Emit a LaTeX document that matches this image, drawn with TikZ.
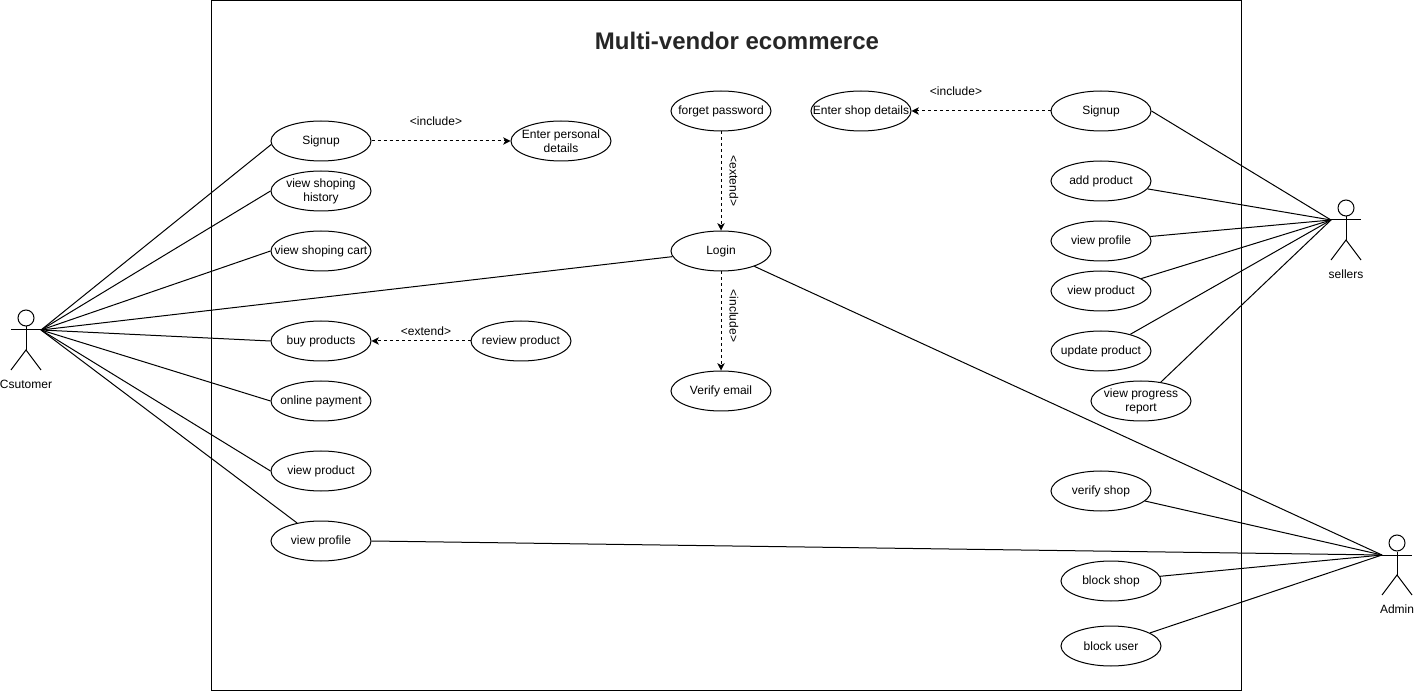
\documentclass[tikz,border=0pt]{standalone}
\usepackage{fontspec}
\setmainfont{Liberation Sans}
\usetikzlibrary{shapes.geometric,arrows.meta}
\begin{document}
\begin{tikzpicture}[x=0.75pt,y=-0.75pt,line width=0.75pt,font=\fontsize{9}{10.5}\selectfont]
        \tikzstyle{usecase}=[ellipse,draw=black,fill=white,minimum width=75pt,minimum height=30pt,inner xsep=-12pt,inner ysep=-3pt,align=center]
        \tikzstyle{actorname}=[inner sep=0pt]
        \tikzstyle{tagname}=[inner sep=0pt,fill=none]
        \tikzstyle{head}=[circle,draw=black,minimum size=12pt,inner sep=0pt]
        \tikzstyle{edge}=[draw,black]
        \tikzstyle{dep}=[draw,black,dashed,dash pattern=on 2.25pt off 2.25pt,-{Stealth[length=5.5pt,width=5.5pt,inset=1.5pt]}]
        \useasboundingbox (0,0) rectangle (1414,691);
        \fill[white] (0,0) rectangle (1414,691);
        \node [draw=black,minimum width=772.5pt,minimum height=517.5pt,inner sep=0pt] (system) at (726,345.5) {};
        \node [font=\fontsize{18}{21}\selectfont\bfseries,text=black!85] (title) at (737,41) {Multi-vendor ecommerce};
       \begin{scope}
         % left column
         \node [usecase] (signup) at (321,141) {Signup};
         \node [usecase] (details) at (561,141) {Enter personal\\details};
         \node [usecase] (history) at (321,191) {view shoping\\history};
         \node [usecase] (cart) at (321,251) {view shoping cart};
         \node [usecase] (buy) at (321,341) {buy products};
         \node [usecase] (review) at (521,341) {review product};
         \node [usecase] (payment) at (321,401) {online payment};
         \node [usecase] (product) at (321,471) {view product};
         \node [usecase] (profile) at (321,541) {view profile};
         % middle column
         \node [usecase] (forget) at (721,111) {forget password};
         \node [usecase] (login) at (721,251) {Login};
         \node [usecase] (verify) at (721,391) {Verify email};
         % right column
         \node [usecase] (shopdetails) at (861,111) {Enter shop details};
         \node [usecase] (ssignup) at (1101,111) {Signup};
         \node [usecase] (sadd) at (1101,181) {add product};
         \node [usecase] (sprofile) at (1101,241) {view profile};
         \node [usecase] (sproduct) at (1101,291) {view product};
         \node [usecase] (supdate) at (1101,351) {update product};
         \node [usecase] (sreport) at (1141,401) {view progress\\report};
         \node [usecase] (averify) at (1101,491) {verify shop};
         \node [usecase] (ablock) at (1111,581) {block shop};
         \node [usecase] (auser) at (1111,646) {block user};
       \end{scope}
       \begin{scope}
         % actors
         \node [head] (chead) at (26,318) {};
         \coordinate (chandl) at (11,330);
         \coordinate (chand) at (41,330);
         \coordinate (chip) at (26,350);
         \coordinate (cfootl) at (11,370);
         \coordinate (cfootr) at (41,370);
         \path[edge] (chead) -- (chip);
         \path[edge] (chandl) -- (chand);
         \path[edge] (cfootl) -- (chip) -- (cfootr);
         \node [actorname] (csutomer) at (26,384) {Csutomer};
         \node [head] (shead) at (1346,208) {};
         \coordinate (shand) at (1331,220);
         \coordinate (shandr) at (1361,220);
         \coordinate (ship) at (1346,240);
         \coordinate (sfootl) at (1331,260);
         \coordinate (sfootr) at (1361,260);
         \path[edge] (shead) -- (ship);
         \path[edge] (shand) -- (shandr);
         \path[edge] (sfootl) -- (ship) -- (sfootr);
         \node [actorname] (sellers) at (1346,274) {sellers};
         \node [head] (ahead) at (1397,543) {};
         \coordinate (ahand) at (1382,555);
         \coordinate (ahandr) at (1412,555);
         \coordinate (ahip) at (1397,575);
         \coordinate (afootl) at (1382,595);
         \coordinate (afootr) at (1412,595);
         \path[edge] (ahead) -- (ahip);
         \path[edge] (ahand) -- (ahandr);
         \path[edge] (afootl) -- (ahip) -- (afootr);
         \node [actorname] (admin) at (1397,609) {Admin};
       \end{scope}
       \begin{scope}
         \path[edge] (chand) -- (signup.184);
         \path[edge] (chand) -- (history.west);
         \path[edge] (chand) -- (cart.west);
         \path[edge] (chand) -- (login);
         \path[edge] (chand) -- (buy.west);
         \path[edge] (chand) -- (payment.west);
         \path[edge] (chand) -- (product.west);
         \path[edge] (chand) -- (profile);
         \path[edge] (shand) -- (ssignup.east);
         \path[edge] (shand) -- (sadd);
         \path[edge] (shand) -- (sprofile);
         \path[edge] (shand) -- (sproduct);
         \path[edge] (shand) -- (supdate);
         \path[edge] (shand) -- (sreport);
         \path[edge] (ahand) -- (login);
         \path[edge] (ahand) -- (profile.east);
         \path[edge] (ahand) -- (averify);
         \path[edge] (ahand) -- (ablock);
         \path[edge] (ahand) -- (auser);
         \path[dep] (signup) -- (details);
         \path[dep] (review) -- (buy);
         \path[dep] (forget) -- (login);
         \path[dep] (login) -- (verify);
         \path[dep] (ssignup) -- (shopdetails);
         \node [tagname] (tag1) at (436,121) {<include>};
         \node [tagname] (tag2) at (426,331) {<extend>};
         \node [tagname] (tag3) at (956,91) {<include>};
         \node [tagname,rotate=-90] (tag4) at (734,181) {<extend>};
         \node [tagname,rotate=-90] (tag5) at (734,316) {<include>};
       \end{scope}
      \end{tikzpicture}
\end{document}
